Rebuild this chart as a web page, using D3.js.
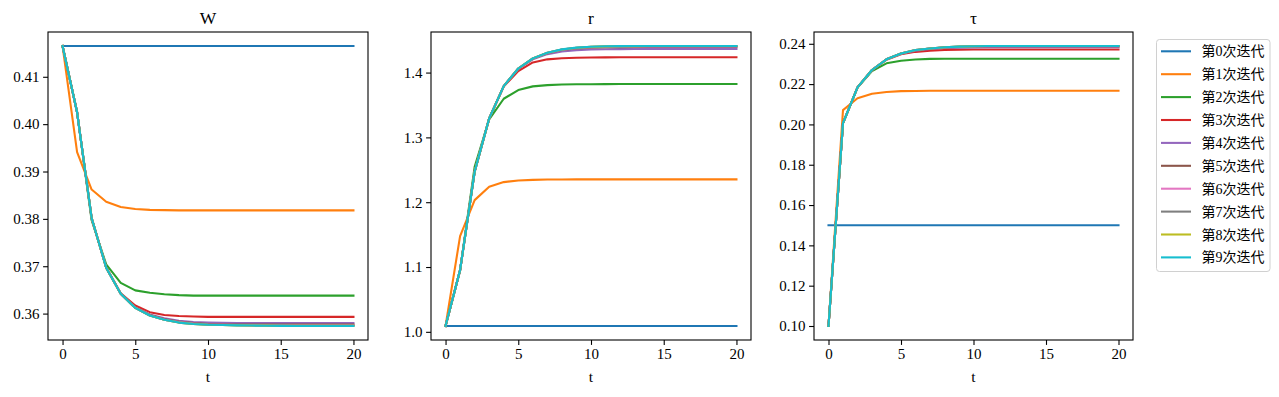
<!DOCTYPE html>
<html>
<head>
<meta charset="utf-8">
<script src="https://cdn.jsdelivr.net/npm/d3@7"></script>
<style>
  body { margin: 0; background: #fff; }
  text { font-family: "Liberation Serif", "Noto Sans CJK SC", serif; fill: #000; }
</style>
</head>
<body>
<script>
// time steps and iteration names
const steps = d3.range(0, 21);
const iterNames = ['第0次迭代', '第1次迭代', '第2次迭代', '第3次迭代', '第4次迭代',
  '第5次迭代', '第6次迭代', '第7次迭代', '第8次迭代', '第9次迭代'];
const colors = d3.schemeCategory10;

const xTicks = [0, 5, 10, 15, 20];
const wTicks = [0.36, 0.37, 0.38, 0.39, 0.40, 0.41];
const rTicks = [1.0, 1.1, 1.2, 1.3, 1.4];
const tauTicks = [0.10, 0.12, 0.14, 0.16, 0.18, 0.20, 0.22, 0.24];

// W series, one row per iteration
const wSeries = [
  [0.4165,0.4165,0.4165,0.4165,0.4165,0.4165,0.4165,0.4165,0.4165,0.4165,0.4165,0.4165,0.4165,0.4165,0.4165,0.4165,0.4165,0.4165,0.4165,0.4165,0.4165],
  [0.4165,0.3941,0.3862,0.3836,0.3825,0.3821,0.3819,0.38185,0.3818,0.3818,0.3818,0.3818,0.3818,0.3818,0.3818,0.3818,0.3818,0.3818,0.3818,0.3818,0.3818],
  [0.4165,0.4025,0.3797,0.3704,0.3665,0.3649,0.3644,0.3641,0.3639,0.3638,0.3638,0.3638,0.3638,0.3638,0.3638,0.3638,0.3638,0.3638,0.3638,0.3638,0.3638],
  [0.4165,0.4025,0.3801,0.3698,0.3643,0.3617,0.3603,0.3597,0.3595,0.3594,0.3593,0.3593,0.3593,0.3593,0.3593,0.3593,0.3593,0.3593,0.3593,0.3593,0.3593],
  [0.4165,0.4025,0.3802,0.3697,0.3642,0.3613,0.3598,0.3590,0.3585,0.3582,0.3581,0.35805,0.3580,0.3580,0.3580,0.3580,0.3580,0.3580,0.3580,0.3580,0.3580],
  [0.4165,0.4025,0.3802,0.3697,0.3642,0.3612,0.3597,0.3588,0.3583,0.3580,0.3578,0.35772,0.3577,0.3577,0.3577,0.3577,0.3577,0.3577,0.3577,0.3577,0.3577],
  [0.4165,0.4025,0.3802,0.3697,0.3642,0.3612,0.3596,0.3587,0.3582,0.3579,0.3577,0.35762,0.35758,0.35756,0.35755,0.35755,0.35755,0.35755,0.35755,0.35755,0.35755],
  [0.4165,0.4025,0.3802,0.3697,0.3642,0.3612,0.3596,0.3587,0.3581,0.3578,0.35767,0.3576,0.35753,0.3575,0.35748,0.35748,0.35748,0.35748,0.35748,0.35748,0.35748],
  [0.4165,0.4025,0.3802,0.3697,0.3642,0.3612,0.3596,0.3587,0.3581,0.3578,0.35766,0.3576,0.35752,0.35748,0.35746,0.35745,0.35745,0.35745,0.35745,0.35745,0.35745],
  [0.4165,0.4025,0.3802,0.3697,0.3642,0.3612,0.3596,0.3587,0.3581,0.3578,0.35765,0.3576,0.35752,0.35747,0.35743,0.3574,0.35739,0.35738,0.35738,0.35738,0.35738]
];

// r series
const rSeries = [
  [1.009,1.009,1.009,1.009,1.009,1.009,1.009,1.009,1.009,1.009,1.009,1.009,1.009,1.009,1.009,1.009,1.009,1.009,1.009,1.009,1.009],
  [1.009,1.1477,1.2032,1.2238,1.2310,1.2336,1.2345,1.2349,1.2351,1.2352,1.2352,1.2352,1.2352,1.2352,1.2352,1.2352,1.2352,1.2352,1.2352,1.2352,1.2352],
  [1.009,1.0950,1.2546,1.3278,1.3596,1.3730,1.3787,1.3806,1.3815,1.3819,1.3821,1.3822,1.3823,1.3823,1.3823,1.3823,1.3823,1.3823,1.3823,1.3823,1.3823],
  [1.009,1.0952,1.2475,1.3292,1.3785,1.4023,1.4157,1.4204,1.4222,1.4230,1.4233,1.4235,1.4236,1.4236,1.4236,1.4236,1.4236,1.4236,1.4236,1.4236,1.4236],
  [1.009,1.0952,1.2470,1.3293,1.3792,1.4058,1.4205,1.4285,1.4325,1.4345,1.4355,1.4360,1.4362,1.4363,1.4364,1.4364,1.4364,1.4364,1.4364,1.4364,1.4364],
  [1.009,1.0952,1.2470,1.3293,1.3792,1.4062,1.4215,1.4298,1.4348,1.4372,1.4384,1.4390,1.4393,1.4394,1.4395,1.4395,1.4395,1.4395,1.4395,1.4395,1.4395],
  [1.009,1.0952,1.2470,1.3293,1.3792,1.4063,1.4218,1.4303,1.4354,1.4380,1.4393,1.4399,1.4401,1.4402,1.4403,1.4403,1.4403,1.4403,1.4403,1.4403,1.4403],
  [1.009,1.0952,1.2470,1.3293,1.3792,1.4063,1.4219,1.4305,1.4356,1.4383,1.4396,1.4402,1.4405,1.4406,1.4407,1.4407,1.4407,1.4407,1.4407,1.4407,1.4407],
  [1.009,1.0952,1.2470,1.3293,1.3792,1.4063,1.4219,1.4306,1.4357,1.4384,1.4397,1.4404,1.4407,1.4408,1.4409,1.4409,1.4409,1.4409,1.4409,1.4409,1.4409],
  [1.009,1.0952,1.2470,1.3293,1.3792,1.4063,1.4219,1.4306,1.4358,1.4385,1.4398,1.4405,1.4408,1.4410,1.4410,1.4410,1.4410,1.4410,1.4410,1.4410,1.4410]
];

// tau series
const tauSeries = [
  [0.15,0.15,0.15,0.15,0.15,0.15,0.15,0.15,0.15,0.15,0.15,0.15,0.15,0.15,0.15,0.15,0.15,0.15,0.15,0.15,0.15],
  [0.10,0.2071,0.2130,0.2152,0.2161,0.2165,0.2166,0.2167,0.2167,0.2167,0.2167,0.2167,0.2167,0.2167,0.2167,0.2167,0.2167,0.2167,0.2167,0.2167,0.2167],
  [0.10,0.2005,0.2183,0.2265,0.2303,0.2316,0.2322,0.2325,0.2326,0.2326,0.2326,0.2326,0.2326,0.2326,0.2326,0.2326,0.2326,0.2326,0.2326,0.2326,0.2326],
  [0.10,0.2006,0.2184,0.2269,0.2321,0.2348,0.2360,0.2366,0.2369,0.2371,0.2372,0.2372,0.2372,0.2372,0.2372,0.2372,0.2372,0.2372,0.2372,0.2372,0.2372],
  [0.10,0.2006,0.2184,0.2270,0.2323,0.2351,0.2366,0.2374,0.2379,0.2381,0.2382,0.2383,0.2383,0.2383,0.2383,0.2383,0.2383,0.2383,0.2383,0.2383,0.2383],
  [0.10,0.2006,0.2184,0.2270,0.2323,0.2352,0.2368,0.2376,0.2381,0.2384,0.2386,0.2387,0.2387,0.2387,0.2387,0.2387,0.2387,0.2387,0.2387,0.2387,0.2387],
  [0.10,0.2006,0.2184,0.2270,0.2323,0.2352,0.2369,0.2377,0.2382,0.2385,0.2387,0.2388,0.2388,0.2388,0.2388,0.2388,0.2388,0.2388,0.2388,0.2388,0.2388],
  [0.10,0.2006,0.2184,0.2270,0.2323,0.2352,0.2369,0.2377,0.2383,0.2386,0.2388,0.2389,0.2389,0.2389,0.2389,0.2389,0.2389,0.2389,0.2389,0.2389,0.2389],
  [0.10,0.2006,0.2184,0.2270,0.2323,0.2352,0.2369,0.2377,0.2383,0.2386,0.2388,0.2389,0.2389,0.2389,0.2389,0.2389,0.2389,0.2389,0.2389,0.2389,0.2389],
  [0.10,0.2006,0.2184,0.2270,0.2323,0.2352,0.2369,0.2377,0.2383,0.2386,0.2388,0.2389,0.2389,0.2389,0.2389,0.2389,0.2389,0.2389,0.2389,0.2389,0.2389]
];

const panels = [
  { title: 'W', series: wSeries, ticks: wTicks, fmt: d3.format('.2f'), left: 48, right: 368 },
  { title: 'r', series: rSeries, ticks: rTicks, fmt: d3.format('.1f'), left: 431, right: 751 },
  { title: 'τ', series: tauSeries, ticks: tauTicks, fmt: d3.format('.2f'), left: 814, right: 1133 }
];
const plotTop = 32, plotBottom = 340;

const svg = d3.select('body').append('svg')
  .attr('width', 1279)
  .attr('height', 397);

panels.forEach((p) => {
  // x scale with matplotlib style 5% padding
  const x = d3.scaleLinear().domain([-1, 21]).range([p.left, p.right]);
  const all = p.series.flat();
  let [lo, hi] = d3.extent(all);
  const pad = (hi - lo) * 0.05;
  const y = d3.scaleLinear().domain([lo - pad, hi + pad]).range([plotBottom, plotTop]);

  const g = svg.append('g');

  const line = d3.line()
    .x((d, i) => x(steps[i]))
    .y((d) => y(d));

  g.selectAll('.series')
    .data(p.series)
    .enter()
    .append('path')
    .attr('d', line)
    .attr('fill', 'none')
    .attr('stroke', (d, i) => colors[i])
    .attr('stroke-width', 2.08)
    .attr('stroke-linejoin', 'round')
    .attr('stroke-linecap', 'square');

  // axes frame
  g.append('rect')
    .attr('x', p.left)
    .attr('y', plotTop)
    .attr('width', p.right - p.left)
    .attr('height', plotBottom - plotTop)
    .attr('fill', 'none')
    .attr('stroke', '#000')
    .attr('stroke-width', 1.1);

  const xAxis = g.append('g')
    .attr('transform', `translate(0,${plotBottom})`)
    .call(d3.axisBottom(x).tickValues(xTicks).tickSize(4.9).tickPadding(3.5).tickFormat(d3.format('d')));
  const yAxis = g.append('g')
    .attr('transform', `translate(${p.left},0)`)
    .call(d3.axisLeft(y).tickValues(p.ticks).tickSize(4.9).tickPadding(3.5).tickFormat(p.fmt));

  [xAxis, yAxis].forEach((a) => {
    a.attr('font-family', null).attr('font-size', null);
    a.select('.domain').remove();
    a.selectAll('line').attr('stroke', '#000').attr('stroke-width', 1.1);
    a.selectAll('text')
      .style('font-family', '"Liberation Serif", serif')
      .style('font-size', '15px')
      .attr('fill', '#000');
  });

  g.append('text')
    .attr('x', (p.left + p.right) / 2)
    .attr('y', 24)
    .attr('text-anchor', 'middle')
    .style('font-size', '17.5px')
    .text(p.title);

  g.append('text')
    .attr('x', (p.left + p.right) / 2)
    .attr('y', 382)
    .attr('text-anchor', 'middle')
    .style('font-size', '15.5px')
    .text('t');
});

// legend
const legend = svg.append('g');
legend.append('rect')
  .attr('x', 1156.5)
  .attr('y', 39.5)
  .attr('width', 113.5)
  .attr('height', 232)
  .attr('rx', 3)
  .attr('fill', '#fff')
  .attr('fill-opacity', 0.8)
  .attr('stroke', '#d0d0d0')
  .attr('stroke-width', 1);

const entries = legend.selectAll('.entry')
  .data(iterNames)
  .enter()
  .append('g')
  .attr('transform', (d, i) => `translate(0,${51.3 + i * 22.9})`);

entries.append('line')
  .attr('x1', 1161)
  .attr('x2', 1191)
  .attr('stroke', (d, i) => colors[i])
  .attr('stroke-width', 2.08);

entries.append('text')
  .attr('x', 1201.5)
  .attr('dy', '0.36em')
  .style('font-size', '14px')
  .text((d) => d);
</script>
</body>
</html>
